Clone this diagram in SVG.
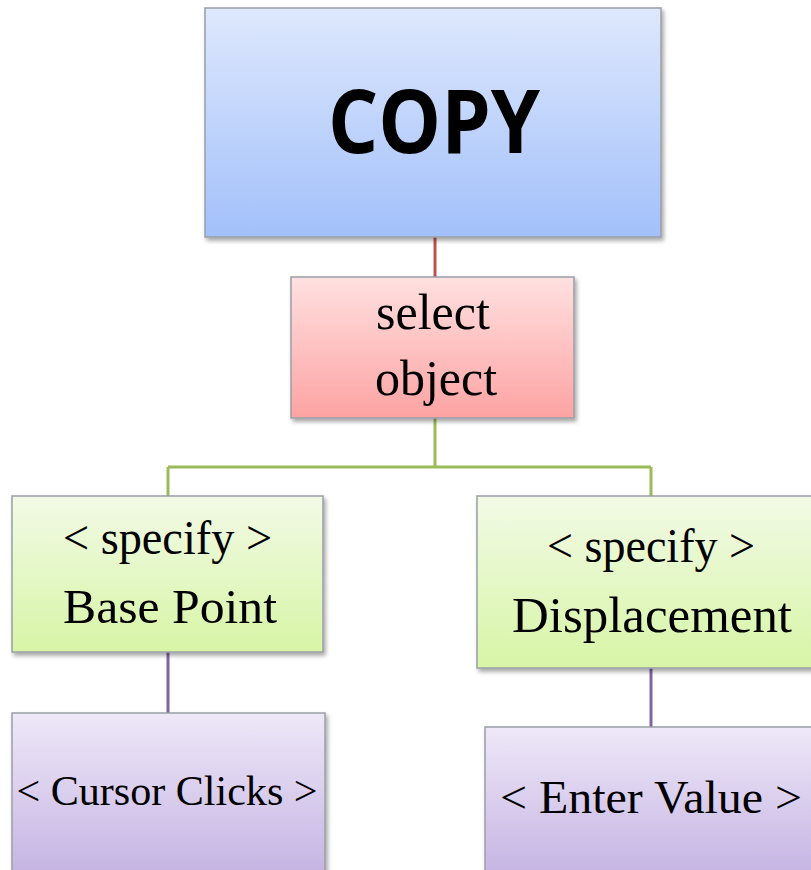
<svg xmlns="http://www.w3.org/2000/svg" width="811" height="870" viewBox="0 0 811 870">
<style>
.box{stroke:#9a9ea6;stroke-width:1.5;filter:url(#sh)}
.serif{font-family:"Liberation Serif","Times New Roman",serif;fill:#000;text-anchor:middle}
.conn{fill:none;stroke-width:3}
</style>
<defs>
<filter id="sh" x="-10%" y="-10%" width="125%" height="125%">
<feDropShadow dx="2" dy="3" stdDeviation="2" flood-color="#000" flood-opacity="0.35"/>
</filter>
<linearGradient id="gBlue" x1="0" y1="0" x2="0" y2="1"><stop offset="0" stop-color="#dee8fd"/><stop offset="1" stop-color="#a2c0fa"/></linearGradient>
<linearGradient id="gRed" x1="0" y1="0" x2="0" y2="1"><stop offset="0" stop-color="#ffe0e0"/><stop offset="1" stop-color="#fda3a3"/></linearGradient>
<linearGradient id="gGreen" x1="0" y1="0" x2="0" y2="1"><stop offset="0" stop-color="#f2fae6"/><stop offset="1" stop-color="#d7f5a6"/></linearGradient>
<linearGradient id="gPurple" x1="0" y1="0" x2="0" y2="1"><stop offset="0" stop-color="#eee8f8"/><stop offset="1" stop-color="#c3b1e2"/></linearGradient>
</defs>
<rect width="811" height="870" fill="#fff"/>
<g id="connectors">
<line class="conn" x1="435" y1="237" x2="435" y2="277" stroke="#c0504d"/>
<path class="conn" d="M435 418 V467 M168 467 H651 M168 467 V497 M651 467 V497" stroke="#9bbb59"/>
<line class="conn" x1="168" y1="652" x2="168" y2="713" stroke="#8064a2"/>
<line class="conn" x1="651" y1="668" x2="651" y2="727" stroke="#8064a2"/>
</g>
<g id="copy">
<rect class="box" x="205" y="8" width="456" height="229" fill="url(#gBlue)"/>
<text x="434" y="153" font-family="'Open Sans','Liberation Sans',sans-serif" font-weight="700" font-size="88" text-anchor="middle" textLength="212" lengthAdjust="spacingAndGlyphs">COPY</text>
</g>
<g id="select-object">
<rect class="box" x="291" y="277" width="283" height="141" fill="url(#gRed)"/>
<text class="serif" x="433" y="329" font-size="50">select</text>
<text class="serif" x="436" y="395" font-size="50">object</text>
</g>
<g id="base-point">
<rect class="box" x="12" y="496" width="311" height="156" fill="url(#gGreen)"/>
<text class="serif" x="167.5" y="554" font-size="48" textLength="209" lengthAdjust="spacingAndGlyphs">&lt; specify &gt;</text>
<text class="serif" x="170" y="623" font-size="48" textLength="214" lengthAdjust="spacingAndGlyphs">Base Point</text>
</g>
<g id="displacement">
<rect class="box" x="477" y="496" width="350" height="172" fill="url(#gGreen)"/>
<text class="serif" x="651" y="562" font-size="48" textLength="208" lengthAdjust="spacingAndGlyphs">&lt; specify &gt;</text>
<text class="serif" x="652" y="632" font-size="50" textLength="280" lengthAdjust="spacingAndGlyphs">Displacement</text>
</g>
<g id="cursor-clicks">
<rect class="box" x="12" y="713" width="313" height="170" fill="url(#gPurple)"/>
<text class="serif" x="167" y="805" font-size="42" textLength="301" lengthAdjust="spacingAndGlyphs">&lt; Cursor Clicks &gt;</text>
</g>
<g id="enter-value">
<rect class="box" x="485" y="727" width="342" height="156" fill="url(#gPurple)"/>
<text class="serif" x="651" y="813" font-size="47" textLength="302" lengthAdjust="spacingAndGlyphs">&lt; Enter Value &gt;</text>
</g>
</svg>
